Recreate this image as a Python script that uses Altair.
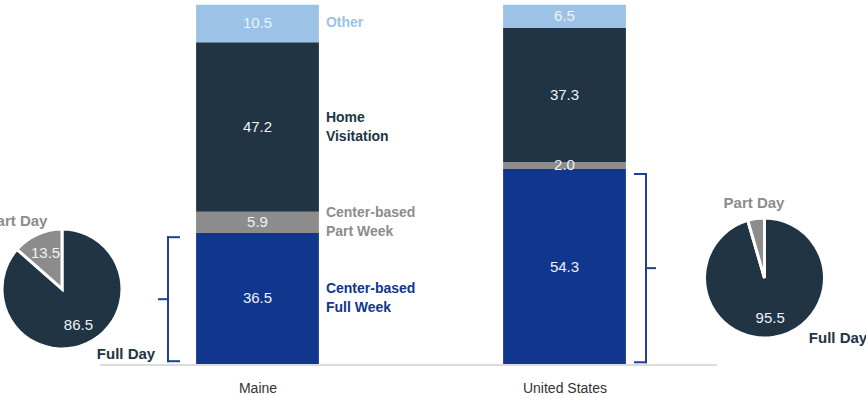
import altair as alt
import pandas as pd

# ---- data ----
states = ["Maine", "United States"]
segments = ["Center-based Full Week", "Center-based Part Week", "Home Visitation", "Other"]
segment_labels = ["Center-based\nFull Week", "Center-based\nPart Week", "Home\nVisitation", "Other"]
maine_values = [36.5, 5.9, 47.2, 10.5]
us_values = [54.3, 2.0, 37.3, 6.5]
maine_day = [86.5, 13.5]   # Full Day, Part Day
us_day = [95.5, 4.5]
day_labels = ["Full Day", "Part Day"]

# ---- style / layout ----
seg_colors = ["#10368e", "#8c8c8c", "#213444", "#9cc3e5"]
day_colors = ["#213444", "#8c8c8c"]
FONT = "Liberation Sans"
color_scale = alt.Scale(domain=segments + day_labels, range=seg_colors + day_colors)

W, H = 866, 359
TOP, BOTTOM = 5, 32
STEP = 307.0          # px between the two bar centres
C0 = 257.5            # px of first bar centre
HALF = 0.2            # half bar width (category units)
PX = 100.0 / H        # one pixel in % units


def u(px):
    """pixel column -> category-index units of the x scale"""
    return (px - C0) / STEP


def pct(py):
    """pixel row (page) -> % units of the y scale"""
    return (H + TOP - py) * PX


xscale = alt.Scale(domain=[u(0), u(W)], nice=False, zero=False)
yscale = alt.Scale(domain=[0, 100], nice=False, zero=True)
label_expr = " : ".join(
    [f"datum.value == {i} ? '{s}'" for i, s in enumerate(states)] + ["''"]
)
xaxis = alt.Axis(title=None, values=list(range(len(states))), labelExpr=label_expr,
                 domain=False, ticks=False, grid=False, labelPadding=17,
                 labelFontSize=14, labelFont=FONT, labelColor="#333333")

# ---- bars ----
rows = []
for idx, (st, vals) in enumerate(zip(states, [maine_values, us_values])):
    base = 0.0
    for i, (seg, v) in enumerate(zip(segments, vals)):
        rows.append({"state": st, "idx": idx, "x0": idx - HALF, "x1": idx + HALF,
                     "segment": seg, "value": v, "y0": base, "y1": base + v,
                     "mid": base + v / 2, "label": f"{v:.1f}"})
        base += v
bars_df = pd.DataFrame(rows)

bars = alt.Chart(bars_df).mark_bar().encode(
    x=alt.X("x0:Q", scale=xscale, axis=xaxis),
    x2="x1:Q",
    y=alt.Y("y0:Q", scale=yscale, axis=None),
    y2="y1:Q",
    color=alt.Color("segment:N", scale=color_scale, legend=None),
)

bar_text = alt.Chart(bars_df).mark_text(font=FONT, fontSize=15, color="#eef2f7",
                                        baseline="middle").encode(
    x="idx:Q",
    y="mid:Q",
    text="label:N",
)

cat_df = bars_df[bars_df.state == "Maine"].copy()
cat_df["cat"] = segment_labels
cat_df["ly"] = [m + lab.count("\n") * 9.5 * PX for m, lab in zip(cat_df["mid"], segment_labels)]
cat_text = alt.Chart(cat_df).mark_text(font=FONT, fontSize=14, fontWeight="bold",
                                       align="left", baseline="middle", dx=7,
                                       lineBreak="\n", lineHeight=19).encode(
    x="x1:Q",
    y="ly:Q",
    text="cat:N",
    color=alt.Color("segment:N", scale=color_scale, legend=None),
)

# ---- baseline and braces as thin rectangles ----
rect_rows = [{"kind": "base", "rx": u(100), "rx2": u(717), "ry": -2 * PX, "ry2": 0.0}]


def brace(x0_px, direction, top, bottom, hook=12, tip=10):
    mid = (top + bottom) / 2
    xa, xb = u(x0_px - 1), u(x0_px + 1)
    hook_end = u(x0_px + direction * hook)
    tip_end = u(x0_px - direction * tip)
    lo_h, hi_h = (min(xa, hook_end), max(xb, hook_end))
    lo_t, hi_t = (min(xa, tip_end), max(xb, tip_end))
    rect_rows.extend([
        {"kind": "brace", "rx": xa, "rx2": xb, "ry": bottom, "ry2": top},
        {"kind": "brace", "rx": lo_h, "rx2": hi_h, "ry": top - 2 * PX, "ry2": top},
        {"kind": "brace", "rx": lo_h, "rx2": hi_h, "ry": bottom, "ry2": bottom + 2 * PX},
        {"kind": "brace", "rx": lo_t, "rx2": hi_t, "ry": mid - 1 * PX, "ry2": mid + 1 * PX},
    ])


brace(168, 1, maine_values[0] - 0.9, 0.5)
brace(646, -1, us_values[0] - 1.1, 0.2)
rect_df = pd.DataFrame(rect_rows)

base_rect = alt.Chart(rect_df[rect_df.kind == "base"]).mark_bar(color="#dcdcdc").encode(
    x="rx:Q", x2="rx2:Q", y="ry:Q", y2="ry2:Q",
)
brace_rect = alt.Chart(rect_df[rect_df.kind == "brace"]).mark_bar(color="#1f3e96").encode(
    x="rx:Q", x2="rx2:Q", y="ry:Q", y2="ry2:Q",
)

# ---- pies ----
def pie(vals, cx_px, cy_px, shown):
    df = pd.DataFrame({"day": day_labels, "v": vals, "ord": [0, 1],
                       "lab": [f"{v:.1f}" for v in vals],
                       "cx": [u(cx_px)] * 2, "cy": [pct(cy_px)] * 2})
    arc = alt.Chart(df).mark_arc(outerRadius=60, stroke="white", strokeWidth=3).encode(
        theta=alt.Theta("v:Q", stack=True),
        color=alt.Color("day:N", scale=color_scale, legend=None),
        order=alt.Order("ord:Q"),
        x="cx:Q", y="cy:Q",
    )
    txt = alt.Chart(df).transform_filter(
        alt.FieldOneOfPredicate(field="day", oneOf=shown)
    ).mark_text(radius=40, font=FONT, fontSize=15,
                color="#eef2f7", baseline="middle").encode(
        theta=alt.Theta("v:Q", stack=True),
        order=alt.Order("ord:Q"),
        text="lab:N",
        x="cx:Q", y="cy:Q",
    )
    return arc, txt

pl_arc, pl_txt = pie(maine_day, 62, 289, ["Full Day", "Part Day"])
pr_arc, pr_txt = pie(us_day, 764.5, 278, ["Full Day"])

# ---- Full Day / Part Day captions ----
cap_df = pd.DataFrame({
    "t": [day_labels[1], day_labels[0], day_labels[1], day_labels[0]],
    "lx": [u(17), u(126), u(754), u(838)],
    "ly": [pct(221), pct(354), pct(203), pct(338)],
})
captions = alt.Chart(cap_df).mark_text(font=FONT, fontSize=15, fontWeight="bold",
                                       align="center", baseline="middle").encode(
    x="lx:Q", y="ly:Q", text="t:N",
    color=alt.Color("t:N", scale=color_scale, legend=None),
)

chart = alt.layer(
    bars, base_rect, bar_text, cat_text, brace_rect,
    pl_arc, pl_txt, pr_arc, pr_txt, captions
).properties(
    width=W, height=H,
    autosize=alt.AutoSizeParams(type="none"),
    padding={"left": 0, "right": 0, "top": TOP, "bottom": BOTTOM},
).configure_view(stroke=None)

chart.save("out.html", embed_options={"renderer": "svg", "actions": False})
